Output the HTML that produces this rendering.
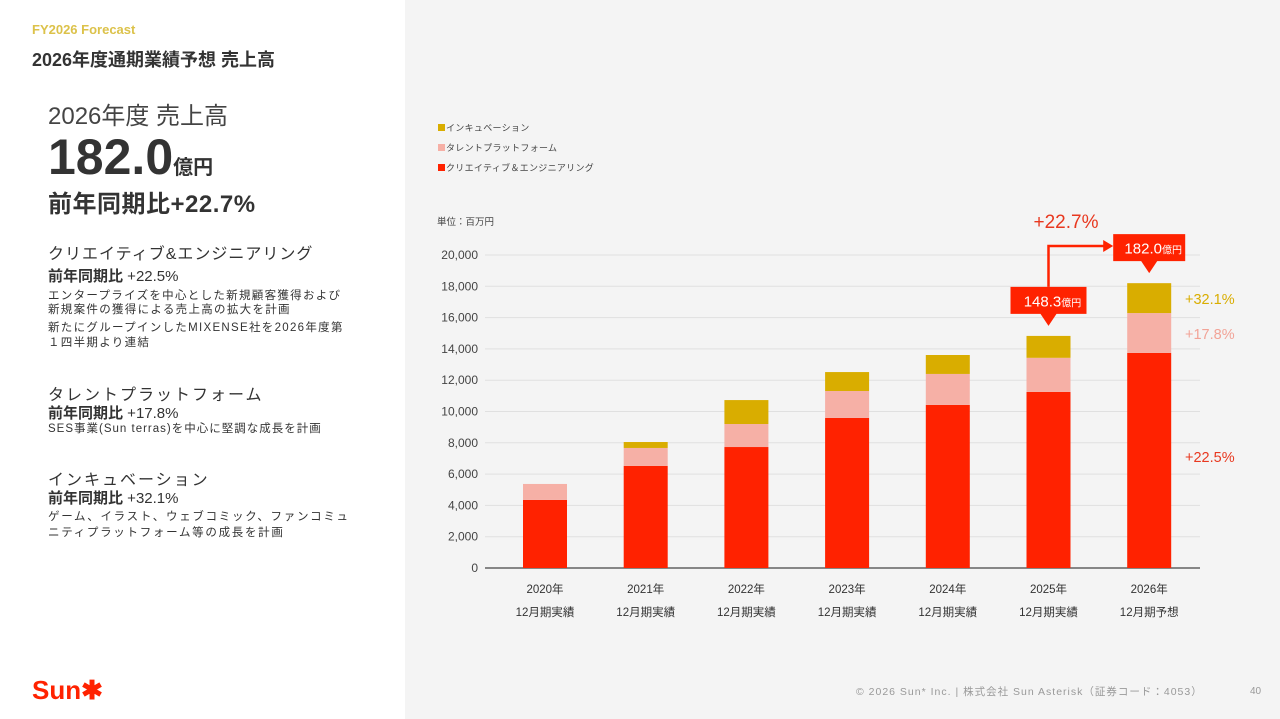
<!DOCTYPE html>
<html><head><meta charset="utf-8"><style>
body{margin:0;width:1280px;height:719px;overflow:hidden;font-family:"Liberation Sans","Noto Sans CJK JP",sans-serif;background:#f4f4f4;position:relative}
#left{position:absolute;left:0;top:0;width:405px;height:719px;background:#fff}
.t{position:absolute;white-space:nowrap;color:#333}
</style></head><body>
<div id="left"></div>
<div class="t" style="left:32px;top:22px;font-size:13px;font-weight:bold;color:#dcc24a">FY2026 Forecast</div>
<div class="t" style="left:32px;top:46px;font-size:18px;font-weight:bold">2026年度通期業績予想 売上高</div>
<div class="t" style="left:48px;top:96px;font-size:24px;color:#444">2026年度 売上高</div>
<div class="t" style="left:48px;top:128px;font-size:50px;font-weight:bold;color:#333">182.0<span style="font-size:20px">億円</span></div>
<div class="t" style="left:48px;top:184px;font-size:24px;font-weight:bold;letter-spacing:.5px">前年同期比+22.7%</div>

<div class="t" style="left:48px;top:240px;font-size:16px;letter-spacing:1px">クリエイティブ&amp;エンジニアリング</div>
<div class="t" style="left:48px;top:265px;font-size:15px"><b>前年同期比</b> +22.5%</div>
<div class="t" style="left:48px;top:289px;font-size:11.5px;line-height:14px;letter-spacing:1.3px">エンタープライズを中心とした新規顧客獲得および<br>新規案件の獲得による売上高の拡大を計画</div>
<div class="t" style="left:48px;top:321px;font-size:11.5px;line-height:15px;letter-spacing:1.3px">新たにグループインしたMIXENSE社を2026年度第<br>１四半期より連結</div>

<div class="t" style="left:48px;top:381px;font-size:16px;letter-spacing:2px">タレントプラットフォーム</div>
<div class="t" style="left:48px;top:402px;font-size:15px"><b>前年同期比</b> +17.8%</div>
<div class="t" style="left:48px;top:420px;font-size:11.5px;letter-spacing:1px">SES事業(Sun terras)を中心に堅調な成長を計画</div>

<div class="t" style="left:48px;top:466px;font-size:16px;letter-spacing:2px">インキュベーション</div>
<div class="t" style="left:48px;top:487px;font-size:15px"><b>前年同期比</b> +32.1%</div>
<div class="t" style="left:48px;top:509px;font-size:11.5px;line-height:16px;letter-spacing:1.7px">ゲーム、イラスト、ウェブコミック、ファンコミュ<br>ニティプラットフォーム等の成長を計画</div>

<div class="t" style="left:32px;top:675px;font-size:26px;font-weight:bold;color:#ff2200">Sun✱</div>
<div class="t" style="left:856px;top:684px;font-size:10.5px;color:#999;letter-spacing:1px">© 2026 Sun* Inc. | 株式会社 Sun Asterisk（証券コード：4053）</div>
<div class="t" style="left:1250px;top:686px;font-size:10px;color:#999">40</div>

<svg id="chart" width="1280" height="719" style="position:absolute;left:0;top:0"></svg>
<script>
const categories=["2020年","2021年","2022年","2023年","2024年","2025年","2026年"];
const subLabels=["12月期実績","12月期実績","12月期実績","12月期実績","12月期実績","12月期実績","12月期予想"];
const creative=[4350,6520,7730,9590,10420,11250,13740];
const talent=[1020,1150,1470,1720,1980,2180,2550];
const incubation=[0,380,1530,1210,1210,1400,1910];
const yTicks=[0,2000,4000,6000,8000,10000,12000,14000,16000,18000,20000];
const seriesNames=["インキュベーション","タレントプラットフォーム","クリエイティブ＆エンジニアリング"];
const colors={c:"#ff2200",t:"#f6b0a6",i:"#d9ad00"};
const NS="http://www.w3.org/2000/svg",svg=document.getElementById('chart');
const y0=568,pxPer=313/20000,x0=545,step=100.7,bw=44;
const Y=v=>y0-v*pxPer, X=i=>x0+i*step;
function el(tag,a,txt){const e=document.createElementNS(NS,tag);for(const k in a)e.setAttribute(k,a[k]);if(txt!=null)e.textContent=txt;svg.appendChild(e);return e;}
yTicks.forEach(v=>{
 const g=el('line',{x1:485,x2:1200,y1:Y(v),y2:Y(v),stroke:v?'#e0e0e0':'#444','stroke-width':v?1:1.2});
 
 
 const t=el('text',{x:478,y:Y(v)+4,'text-anchor':'end','font-size':12,fill:'#444'},v.toLocaleString('en-US'));
 
 
});
categories.forEach((c,i)=>{
 let base=0;
 [[creative[i],colors.c,'bar-creative'],[talent[i],colors.t,'bar-talent'],[incubation[i],colors.i,'bar-incubation']].forEach(([v,col,n])=>{
  if(v<=0)return;
  const r=el('rect',{x:X(i)-bw/2,y:Y(base+v),width:bw,height:v*pxPer,fill:col});
  
  
  base+=v;
 });
 const a=el('text',{x:X(i),y:593,'text-anchor':'middle','font-size':11.5,fill:'#333'},c);
 
 
 const b=el('text',{x:X(i),y:616,'text-anchor':'middle','font-size':11.5,fill:'#333'},subLabels[i]);
 
 
});
[[colors.i,seriesNames[0],128],[colors.t,seriesNames[1],148],[colors.c,seriesNames[2],168]].forEach(([col,n,y])=>{
 const r=el('rect',{x:438,y:y-4,width:7,height:7,fill:col});
 
 
 const t=el('text',{x:446,y:y+3,'font-size':9,fill:'#444','letter-spacing':'0.3'},n);
 
 
});
const u=el('text',{x:437,y:225,'font-size':9.5,fill:'#444'},'単位：百万円');


const tot=i=>creative[i]+talent[i]+incubation[i];
function callout(i,label,w,h){
 const cx=X(i),top=Y(tot(i))-h-22;
 const p=el('path',{d:`M${cx-w/2},${top}h${w}v${h}h${-(w/2-8)}l-8,12l-8,-12h${-(w/2-8)}z`,fill:'#ff2200'});
 
 
 const t=el('text',{x:cx+4,y:top+h/2+6,'text-anchor':'middle','font-size':15,fill:'#fff'});
 t.innerHTML=label+'<tspan font-size="10">億円</tspan>';
 
 
 return top;
}
const t5=callout(5,(tot(5)/100).toFixed(1),76,27);
const t6=callout(6,(tot(6)/100).toFixed(1),72,27);
const ar=el('path',{d:`M${X(5)},${t5}V246H${X(6)-45}`,fill:'none',stroke:'#ff2200','stroke-width':2.5});


const ah=el('path',{d:`M${X(6)-36},246l-10,-6v12z`,fill:'#ff2200'});


const g=el('text',{x:1066,y:228,'text-anchor':'middle','font-size':19,fill:'#e8381f'},'+22.7%');


[['+32.1%',colors.i,Y(tot(6)-incubation[6]/2)+6,'incubation-growth-label'],['+17.8%','#f2a397',Y(creative[6]+talent[6]/2)+6,'talent-growth-label'],['+22.5%','#e8381f',462,'creative-growth-label']].forEach(([s,c,y,n])=>{
 const t=el('text',{x:1185,y:y,'font-size':14.5,fill:c},s);
 
 
});
</script>
</body></html>
